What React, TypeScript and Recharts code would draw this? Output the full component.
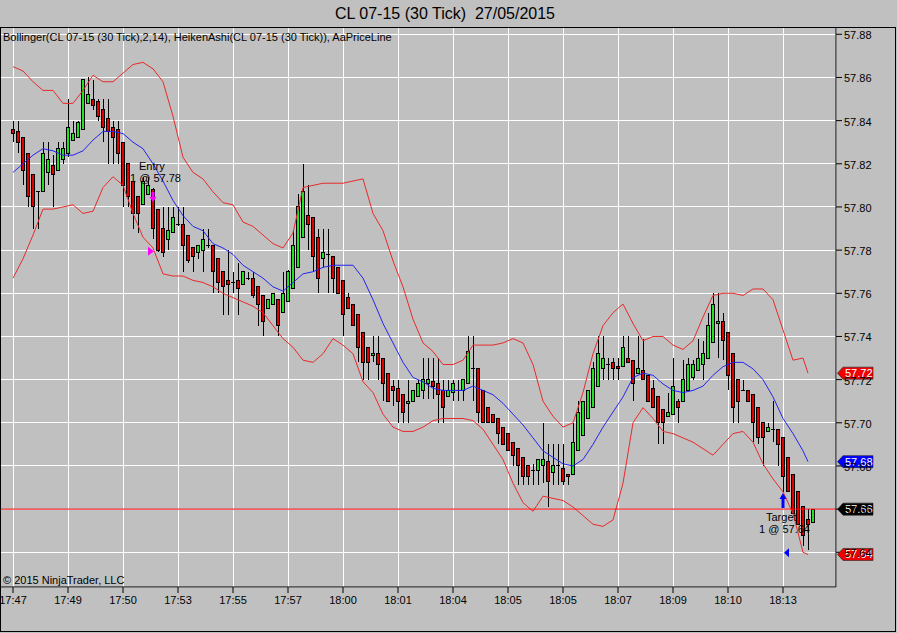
import React from 'react';
import {
  ComposedChart, Bar, Line, XAxis, YAxis, CartesianGrid, ReferenceLine, ReferenceDot,
} from 'recharts';

// Heiken Ashi values, one per 30 tick bar
const haOpen = [
  57.836, 57.835, 57.832, 57.825, 57.815, 57.807, 57.807, 57.816, 57.819, 57.817,
  57.822, 57.825, 57.831, 57.832, 57.836, 57.848, 57.850, 57.849, 57.845, 57.841,
  57.837, 57.836, 57.830, 57.820, 57.812, 57.805, 57.801, 57.806, 57.808, 57.799,
  57.790, 57.785, 57.788, 57.792, 57.792, 57.787, 57.781, 57.779, 57.780, 57.782,
  57.782, 57.776, 57.770, 57.766, 57.765, 57.766, 57.764, 57.767, 57.767, 57.763,
  57.759, 57.753, 57.755, 57.757, 57.751, 57.756, 57.762, 57.772, 57.786, 57.796,
  57.795, 57.786, 57.776, 57.778, 57.777, 57.772, 57.766, 57.758, 57.755, 57.750,
  57.742, 57.735, 57.731, 57.732, 57.730, 57.723, 57.717, 57.716, 57.713, 57.709,
  57.710, 57.712, 57.715, 57.718, 57.719, 57.718, 57.715, 57.712, 57.714, 57.715,
  57.715, 57.718, 57.725, 57.725, 57.715, 57.707, 57.704, 57.702, 57.698, 57.695,
  57.691, 57.688, 57.684, 57.680, 57.678, 57.678, 57.680, 57.682, 57.677, 57.680,
  57.679, 57.676, 57.676, 57.687, 57.694, 57.702, 57.707, 57.717, 57.725, 57.727,
  57.728, 57.726, 57.726, 57.730, 57.729, 57.723, 57.724, 57.722, 57.716, 57.712,
  57.706, 57.703, 57.704, 57.710, 57.710, 57.715, 57.721, 57.724, 57.727, 57.730,
  57.737, 57.746, 57.747, 57.742, 57.732, 57.720, 57.715, 57.715, 57.713, 57.707,
  57.700, 57.696, 57.697, 57.697, 57.693, 57.684, 57.676, 57.668, 57.661, 57.655,
  57.654,
];
const haClose = [
  57.834, 57.830, 57.817, 57.805, 57.800, 57.807, 57.825, 57.822, 57.815, 57.827,
  57.827, 57.837, 57.834, 57.839, 57.859, 57.852, 57.847, 57.842, 57.837, 57.835,
  57.832, 57.825, 57.810, 57.805, 57.797, 57.797, 57.812, 57.810, 57.790, 57.780,
  57.779, 57.789, 57.795, 57.792, 57.782, 57.775, 57.777, 57.782, 57.785, 57.782,
  57.770, 57.765, 57.763, 57.764, 57.765, 57.762, 57.770, 57.767, 57.759, 57.755,
  57.747, 57.757, 57.760, 57.745, 57.760, 57.770, 57.782, 57.800, 57.807, 57.792,
  57.777, 57.767, 57.779, 57.778, 57.767, 57.760, 57.750, 57.753, 57.745, 57.735,
  57.728, 57.728, 57.732, 57.727, 57.718, 57.710, 57.715, 57.710, 57.705, 57.710,
  57.715, 57.718, 57.720, 57.720, 57.717, 57.713, 57.707, 57.715, 57.718, 57.715,
  57.720, 57.733, 57.725, 57.705, 57.700, 57.700, 57.700, 57.695, 57.690, 57.687,
  57.685, 57.680, 57.675, 57.675, 57.678, 57.683, 57.683, 57.673, 57.680, 57.680,
  57.673, 57.675, 57.691, 57.705, 57.710, 57.715, 57.725, 57.732, 57.730, 57.727,
  57.725, 57.725, 57.735, 57.728, 57.718, 57.725, 57.720, 57.710, 57.707, 57.700,
  57.700, 57.705, 57.717, 57.707, 57.720, 57.727, 57.727, 57.730, 57.732, 57.745,
  57.755, 57.747, 57.738, 57.722, 57.707, 57.710, 57.715, 57.710, 57.700, 57.693,
  57.693, 57.698, 57.697, 57.690, 57.675, 57.668, 57.658, 57.653, 57.648, 57.653,
  57.660,
];
const haHigh = [
  57.840, 57.840, 57.832, 57.825, 57.815, 57.807, 57.830, 57.830, 57.824, 57.830,
  57.830, 57.850, 57.840, 57.840, 57.859, 57.860, 57.859, 57.850, 57.850, 57.850,
  57.840, 57.840, 57.830, 57.820, 57.812, 57.805, 57.814, 57.814, 57.809, 57.799,
  57.800, 57.800, 57.800, 57.800, 57.800, 57.787, 57.781, 57.782, 57.790, 57.790,
  57.782, 57.776, 57.770, 57.780, 57.770, 57.774, 57.770, 57.770, 57.770, 57.763,
  57.759, 57.757, 57.760, 57.757, 57.770, 57.771, 57.789, 57.806, 57.820, 57.810,
  57.795, 57.790, 57.790, 57.790, 57.777, 57.772, 57.766, 57.760, 57.755, 57.750,
  57.742, 57.735, 57.740, 57.740, 57.730, 57.723, 57.720, 57.720, 57.713, 57.720,
  57.715, 57.720, 57.730, 57.730, 57.730, 57.730, 57.720, 57.720, 57.720, 57.720,
  57.720, 57.740, 57.740, 57.725, 57.715, 57.707, 57.704, 57.702, 57.698, 57.695,
  57.691, 57.688, 57.684, 57.680, 57.681, 57.683, 57.700, 57.690, 57.690, 57.690,
  57.690, 57.676, 57.700, 57.710, 57.710, 57.715, 57.728, 57.740, 57.740, 57.730,
  57.730, 57.730, 57.740, 57.740, 57.729, 57.740, 57.739, 57.722, 57.720, 57.712,
  57.706, 57.714, 57.730, 57.711, 57.729, 57.730, 57.729, 57.739, 57.738, 57.751,
  57.760, 57.760, 57.751, 57.742, 57.732, 57.720, 57.720, 57.715, 57.713, 57.707,
  57.700, 57.700, 57.710, 57.697, 57.693, 57.684, 57.676, 57.668, 57.661, 57.660,
  57.660,
];
const haLow = [
  57.830, 57.825, 57.810, 57.800, 57.790, 57.790, 57.807, 57.810, 57.800, 57.817,
  57.820, 57.823, 57.831, 57.832, 57.836, 57.848, 57.845, 57.840, 57.830, 57.820,
  57.820, 57.820, 57.800, 57.800, 57.790, 57.788, 57.801, 57.806, 57.785, 57.779,
  57.777, 57.780, 57.788, 57.791, 57.770, 57.774, 57.770, 57.776, 57.770, 57.781,
  57.760, 57.760, 57.750, 57.750, 57.760, 57.750, 57.764, 57.766, 57.758, 57.745,
  57.740, 57.753, 57.755, 57.740, 57.751, 57.756, 57.762, 57.772, 57.786, 57.780,
  57.770, 57.760, 57.772, 57.760, 57.760, 57.760, 57.740, 57.753, 57.745, 57.728,
  57.720, 57.720, 57.728, 57.720, 57.710, 57.710, 57.708, 57.700, 57.700, 57.700,
  57.710, 57.712, 57.711, 57.711, 57.711, 57.700, 57.700, 57.712, 57.710, 57.710,
  57.710, 57.718, 57.710, 57.700, 57.700, 57.700, 57.700, 57.690, 57.690, 57.687,
  57.680, 57.671, 57.671, 57.671, 57.671, 57.671, 57.672, 57.661, 57.671, 57.671,
  57.671, 57.671, 57.676, 57.687, 57.694, 57.702, 57.707, 57.717, 57.720, 57.720,
  57.720, 57.720, 57.726, 57.728, 57.710, 57.723, 57.720, 57.710, 57.707, 57.690,
  57.690, 57.703, 57.704, 57.700, 57.710, 57.715, 57.720, 57.724, 57.720, 57.730,
  57.737, 57.730, 57.729, 57.715, 57.700, 57.700, 57.715, 57.710, 57.691, 57.690,
  57.680, 57.696, 57.691, 57.680, 57.668, 57.668, 57.658, 57.653, 57.643, 57.641,
  57.654,
];

// Bollinger(14, 2), read every second bar (last value on the next-to-last bar)
const bbUpper = [
  57.865, 57.863, 57.858, 57.854, 57.854, 57.848, 57.848, 57.854, 57.861, 57.858,
  57.858, 57.862, 57.866, 57.867, 57.864, 57.858, 57.842, 57.823, 57.816, 57.813,
  57.807, 57.802, 57.801, 57.793, 57.791, 57.787, 57.783, 57.781, 57.788, 57.809,
  57.810, 57.811, 57.811, 57.811, 57.812, 57.813, 57.797, 57.789, 57.775, 57.763,
  57.748, 57.737, 57.733, 57.727, 57.727, 57.729, 57.736, 57.736, 57.736, 57.737,
  57.739, 57.737, 57.727, 57.710, 57.703, 57.698, 57.700, 57.714, 57.732, 57.745,
  57.751, 57.755, 57.746, 57.738, 57.740, 57.740, 57.736, 57.734, 57.738, 57.749,
  57.759, 57.760, 57.760, 57.759, 57.762, 57.762, 57.757, 57.743, 57.729, 57.730,
  57.723,
];
const bbMiddle = [
  57.816, 57.820, 57.824, 57.827, 57.826, 57.824, 57.824, 57.826, 57.831, 57.835,
  57.835, 57.834, 57.830, 57.827, 57.820, 57.812, 57.803, 57.796, 57.791, 57.789,
  57.783, 57.781, 57.778, 57.773, 57.770, 57.767, 57.763, 57.761, 57.765, 57.769,
  57.770, 57.772, 57.773, 57.773, 57.773, 57.767, 57.757, 57.746, 57.737, 57.728,
  57.721, 57.719, 57.716, 57.715, 57.715, 57.715, 57.717, 57.715, 57.713, 57.709,
  57.704, 57.699, 57.693, 57.687, 57.684, 57.681, 57.680, 57.683, 57.690, 57.698,
  57.705, 57.712, 57.721, 57.723, 57.722, 57.718, 57.715, 57.714, 57.715, 57.717,
  57.722, 57.726, 57.728, 57.728, 57.725, 57.720, 57.712, 57.702, 57.695, 57.687,
  57.682,
];
const bbLower = [
  57.767, 57.776, 57.787, 57.799, 57.799, 57.800, 57.801, 57.797, 57.798, 57.809,
  57.814, 57.810, 57.797, 57.786, 57.781, 57.769, 57.768, 57.768, 57.766, 57.765,
  57.763, 57.760, 57.758, 57.756, 57.754, 57.751, 57.745, 57.739, 57.735, 57.729,
  57.728, 57.732, 57.739, 57.736, 57.732, 57.719, 57.714, 57.704, 57.698, 57.696,
  57.696, 57.698, 57.701, 57.702, 57.702, 57.702, 57.701, 57.697, 57.690, 57.683,
  57.672, 57.663, 57.659, 57.666, 57.665, 57.664, 57.661, 57.657, 57.653, 57.652,
  57.655, 57.672, 57.700, 57.707, 57.702, 57.696, 57.695, 57.693, 57.691, 57.688,
  57.685, 57.690, 57.695, 57.696, 57.691, 57.681, 57.674, 57.668, 57.658, 57.640,
  57.639,
];

const timeLabels = [
  '17:47', '17:49', '17:50', '17:53', '17:55', '17:57', '18:00', '18:01',
  '18:04', '18:05', '18:05', '18:07', '18:09', '18:10', '18:13',
];
const priceTicks = [
  57.64, 57.66, 57.68, 57.70, 57.72, 57.74, 57.76, 57.78, 57.80, 57.82, 57.84, 57.86, 57.88,
];
const lastPrice = 57.66;
const entryBar = 28;
const entryPrice = 57.78;
const entrySignal = 57.8023;
const targetBar = 155;
const targetPrice = 57.64;
const targetSignalBar = 154;
const targetSignal = 57.6675;

const FONT = "'Liberation Sans', Arial, sans-serif";
const UP = '#22e022';
const DOWN = '#e00000';
const BAND = '#e82a2a';
const MID = '#2424f0';
const BARS_PER_LABEL = 11;

const rows = haOpen.map((open, i) => ({
  i,
  open,
  close: haClose[i],
  high: haHigh[i],
  low: haLow[i],
  range: [haLow[i], haHigh[i]],
  upper: null as number | null,
  middle: null as number | null,
  lower: null as number | null,
  last: lastPrice,
}));
bbUpper.forEach((_, k) => {
  const row = rows[Math.min(k * 2, rows.length - 2)];
  row.upper = bbUpper[k];
  row.middle = bbMiddle[k];
  row.lower = bbLower[k];
});

const timeTicks = timeLabels.map((_, k) => k * BARS_PER_LABEL);

const Candle = (props: any) => {
  const { x, y, width, height, payload } = props;
  if (x == null || y == null) return null;
  const { open, close, high, low } = payload;
  const cx = Math.round(x + width / 2);
  const top = Math.min(y, y + height);
  const h = Math.abs(height);
  const span = high - low;
  const toY = (v: number) => top + (span > 0 ? ((high - v) / span) * h : 0);
  const yO = toY(open);
  const yC = toY(close);
  const bodyTop = Math.min(yO, yC);
  const bodyH = Math.abs(yO - yC);
  const fill = close > open ? UP : close < open ? DOWN : '#000';
  return (
    <g shapeRendering="crispEdges">
      <line x1={cx + 0.5} x2={cx + 0.5} y1={top} y2={top + h} stroke="#000" />
      {bodyH < 1 ? (
        <line x1={cx - 2} x2={cx + 2} y1={bodyTop} y2={bodyTop} stroke="#000" />
      ) : (
        <rect x={cx - 1.5} y={bodyTop} width={3} height={bodyH} fill={fill} stroke="#000" />
      )}
    </g>
  );
};

const TimeTick = (props: any) => {
  const { x, y, payload } = props;
  return (
    <text x={x} y={y + 9} textAnchor="middle" fontSize={11} fontFamily={FONT} fill="#000">
      {timeLabels[Math.round(payload.value / BARS_PER_LABEL)]}
    </text>
  );
};

const PriceTick = (props: any) => {
  const { x, y, payload } = props;
  return (
    <text x={x} y={y + 5} fontSize={11} fontFamily={FONT} fill="#000">
      {Number(payload.value).toFixed(2)}
    </text>
  );
};

const priceTag = (value: number, color: string) => (p: any) => {
  const { cx, cy } = p;
  const pts = [
    [cx + 1.5, cy], [cx + 7, cy - 6], [cx + 37, cy - 6], [cx + 37, cy + 6], [cx + 7, cy + 6],
  ].map((q) => q.join(',')).join(' ');
  return (
    <g>
      <polygon points={pts} fill={color} stroke="#202020" strokeWidth={0.6} />
      <text x={cx + 9} y={cy + 4} fontSize={11} fontFamily={FONT} fill="#fff">
        {value.toFixed(2)}
      </text>
    </g>
  );
};

const EntryMark = (p: any) => {
  const { cx, cy } = p;
  return (
    <g fontFamily={FONT} fontSize={11} fill="#000">
      <text x={cx - 14} y={cy - 80}>Entry</text>
      <text x={cx - 23} y={cy - 68}>{`1 @ ${entryPrice.toFixed(2)}`}</text>
      <polygon points={`${cx - 5},${cy - 3.5} ${cx - 5},${cy + 5.5} ${cx + 1},${cy + 1}`} fill="#ff00ff" />
    </g>
  );
};

const DownArrow = (p: any) => {
  const { cx, cy } = p;
  return (
    <polygon
      points={`${cx - 1.5},${cy - 10} ${cx + 1.5},${cy - 10} ${cx + 1.5},${cy - 5} ${cx + 3.5},${cy - 5} ${cx},${cy} ${cx - 3.5},${cy - 5} ${cx - 1.5},${cy - 5}`}
      fill="#ff00ff"
    />
  );
};

const UpArrow = (p: any) => {
  const { cx, cy } = p;
  return (
    <polygon
      points={`${cx},${cy} ${cx + 3.5},${cy + 6} ${cx + 1.5},${cy + 6} ${cx + 1.5},${cy + 15} ${cx - 1.5},${cy + 15} ${cx - 1.5},${cy + 6} ${cx - 3.5},${cy + 6}`}
      fill="#0000ff"
    />
  );
};

const TargetMark = (p: any) => {
  const { cx, cy } = p;
  return (
    <g fontFamily={FONT} fontSize={11} fill="#000">
      <text x={cx - 22} y={cy - 31}>Target</text>
      <text x={cx - 29} y={cy - 19}>{`1 @ ${targetPrice.toFixed(2)}`}</text>
      <polygon points={`${cx - 4},${cy + 0.5} ${cx + 1},${cy - 4} ${cx + 1},${cy + 5}`} fill="#0000ff" />
    </g>
  );
};

const X_DOMAIN: [number, number] = [-2.6, 164.6];
const Y_DOMAIN: [number, number] = [57.62392, 57.88338];

export default function App() {
  const upperLast = bbUpper[bbUpper.length - 1];
  const middleLast = bbMiddle[bbMiddle.length - 1];
  const lowerLast = bbLower[bbLower.length - 1];

  return (
    <div style={{ position: 'relative', width: 897, height: 633, background: '#c0c0c0', fontFamily: FONT }}>
      <style>{'body{margin:0}'}</style>
      <ComposedChart width={897} height={633} data={rows} margin={{ top: 27, right: 0, bottom: 0, left: 0 }}>
        <CartesianGrid stroke="#ffffff" shapeRendering="crispEdges" />
        <XAxis
          dataKey="i"
          type="number"
          domain={X_DOMAIN}
          allowDataOverflow
          ticks={timeTicks}
          interval={0}
          height={46}
          tickSize={6}
          tickMargin={2}
          stroke="#000"
          tick={<TimeTick />}
        />
        <YAxis
          orientation="right"
          type="number"
          domain={Y_DOMAIN}
          allowDataOverflow
          ticks={priceTicks}
          interval={0}
          width={61}
          tickSize={6}
          tickMargin={2}
          stroke="#000"
          tick={<PriceTick />}
        />
        <ReferenceDot x={entryBar} y={entryPrice} shape={EntryMark} ifOverflow="visible" />
        <ReferenceDot x={targetBar} y={targetPrice} shape={TargetMark} ifOverflow="visible" />
        <Line dataKey="upper" stroke={BAND} strokeWidth={1} dot={false} connectNulls isAnimationActive={false} />
        <Line dataKey="lower" stroke={BAND} strokeWidth={1} dot={false} connectNulls isAnimationActive={false} />
        <Line dataKey="middle" stroke={MID} strokeWidth={1} dot={false} connectNulls isAnimationActive={false} />
        <ReferenceLine
          y={lastPrice}
          stroke="#ff0000"
          strokeWidth={1}
          style={{ stroke: '#ff0000' }}
        />
        <Bar dataKey="range" barSize={5} shape={Candle} isAnimationActive={false} />
        <ReferenceDot x={entryBar} y={entrySignal} shape={DownArrow} ifOverflow="visible" />
        <ReferenceDot x={targetSignalBar} y={targetSignal} shape={UpArrow} ifOverflow="visible" />
        <ReferenceDot x={X_DOMAIN[1]} y={upperLast} shape={priceTag(upperLast, '#f00000')} ifOverflow="visible" />
        <ReferenceDot x={X_DOMAIN[1]} y={middleLast} shape={priceTag(middleLast, '#0000ff')} ifOverflow="visible" />
        <ReferenceDot x={X_DOMAIN[1]} y={lastPrice} shape={priceTag(lastPrice, '#000000')} ifOverflow="visible" />
        <ReferenceDot x={X_DOMAIN[1]} y={lowerLast} shape={priceTag(lowerLast, '#f00000')} ifOverflow="visible" />
      </ComposedChart>
      <svg width={897} height={633} style={{ position: 'absolute', left: 0, top: 0, pointerEvents: 'none' }}>
        <text x={335} y={19} fontSize={16} fontFamily={FONT} fill="#000" style={{ whiteSpace: 'pre' }}>
          {'CL 07-15 (30 Tick)  27/05/2015'}
        </text>
        <text x={3} y={41} fontSize={11} fontFamily={FONT} fill="#000">
          Bollinger(CL 07-15 (30 Tick),2,14), HeikenAshi(CL 07-15 (30 Tick)), AaPriceLine
        </text>
        <text x={3} y={584} fontSize={11} fontFamily={FONT} fill="#000">
          © 2015 NinjaTrader, LLC
        </text>
        <rect x={0.5} y={27.5} width={895} height={604} fill="none" stroke="#000" shapeRendering="crispEdges" />
      </svg>
    </div>
  );
}
